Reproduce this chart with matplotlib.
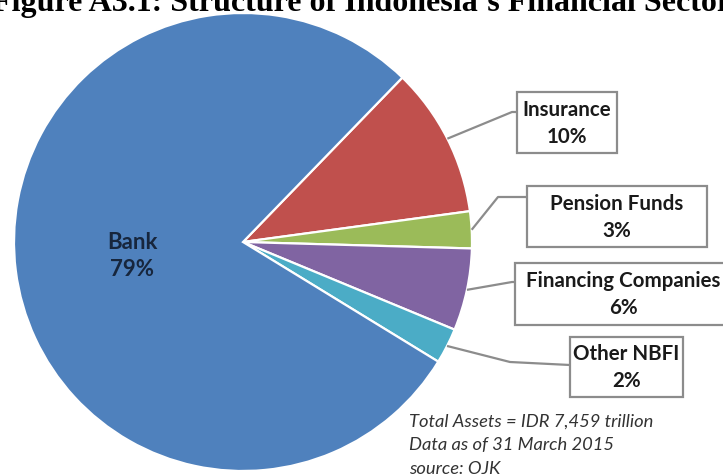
import numpy as np
import matplotlib
matplotlib.use("Agg")
import matplotlib.pyplot as plt
from matplotlib.patches import Rectangle

# shares, labels as printed on the chart
sectors = ["Insurance", "Pension Funds", "Financing Companies", "Other NBFI", "Bank"]
shares = [10.6, 2.6, 5.8, 2.5, 78.5]
pct_labels = ["10%", "3%", "6%", "2%", "79%"]
colors = ["#C0504D", "#9BBB59", "#8064A2", "#4BACC6", "#4F81BD"]

notes = ["Total Assets = IDR 7,459 trillion",
         "Data as of 31 March 2015",
         "source: OJK"]

W, H = 723, 475
CX, CY, R = 243, 242, 229  # pie centre / radius in pixels


def px(x):
    return (x - CX) / R


def py(y):
    return (CY - y) / R


fig = plt.figure(figsize=(W / 100, H / 100), dpi=100)
ax = fig.add_axes([0, 0, 1, 1])

wedges, _ = ax.pie(shares, colors=colors, startangle=45.9, counterclock=False,
                   radius=1, center=(0, 0),
                   wedgeprops=dict(edgecolor="white", linewidth=1.6))

ax.set_xlim(px(0), px(W))
ax.set_ylim(py(H), py(0))
ax.set_aspect("auto")
ax.axis("off")

lab_font = dict(family=["Lato", "DejaVu Sans"], fontweight="bold", fontsize=14.8, color="#1a1a1a")

# boxes: (left, top, right, bottom), elbow point of leader, box entry point  (pixels)
boxes = {
    "Insurance": ((517, 92, 617, 153), (512, 112), (517, 112)),
    "Pension Funds": ((527, 186, 707, 247), (498, 197), (527, 197)),
    "Financing Companies": ((515, 263, 731, 325), (512, 282), (515, 282)),
    "Other NBFI": ((570, 337, 683, 397), (510, 362), (570, 365)),
}

for w, name, pct in zip(wedges, sectors, pct_labels):
    if name not in boxes:
        continue
    (l, t, r, b), elbow, entry = boxes[name]
    mid = np.deg2rad((w.theta1 + w.theta2) / 2)
    sx, sy = np.cos(mid), np.sin(mid)
    ax.plot([sx, px(elbow[0]), px(entry[0])], [sy, py(elbow[1]), py(entry[1])],
            color="#8c8c8c", lw=1.6, solid_capstyle="butt")
    ax.add_patch(Rectangle((px(l), py(b)), (r - l) / R, (b - t) / R,
                           facecolor="white", edgecolor="#8c8c8c", lw=1.6))
    xc, yc = (l + r) / 2, (t + b) / 2
    if name == "Financing Companies":
        xc = 623
    ax.text(px(xc), py(yc - 13), name, ha="center", va="center", **lab_font)
    ax.text(px(xc), py(yc + 14), pct, ha="center", va="center", **lab_font)

# bank label inside the big wedge
bank_font = dict(family=["Lato", "DejaVu Sans"], fontweight="bold", fontsize=16, color="#17263d")
ax.text(px(132), py(242), "Bank", ha="center", va="center", **bank_font)
ax.text(px(132), py(269), pct_labels[-1], ha="center", va="center", **bank_font)

for i, line in enumerate(notes):
    ax.text(px(409), py(427 + 23.5 * i), line, ha="left", va="baseline",
            family=["Lato", "DejaVu Sans"], style="italic", fontsize=13.2, color="#333333")

fig.text(0.5, 1 - 11 / H, "Figure A3.1: Structure of Indonesia\u2019s Financial Sector",
         ha="center", va="baseline", family=["Liberation Serif", "DejaVu Serif"],
         fontweight="bold", fontsize=23, color="black")

fig.savefig("out.png", dpi=100)
